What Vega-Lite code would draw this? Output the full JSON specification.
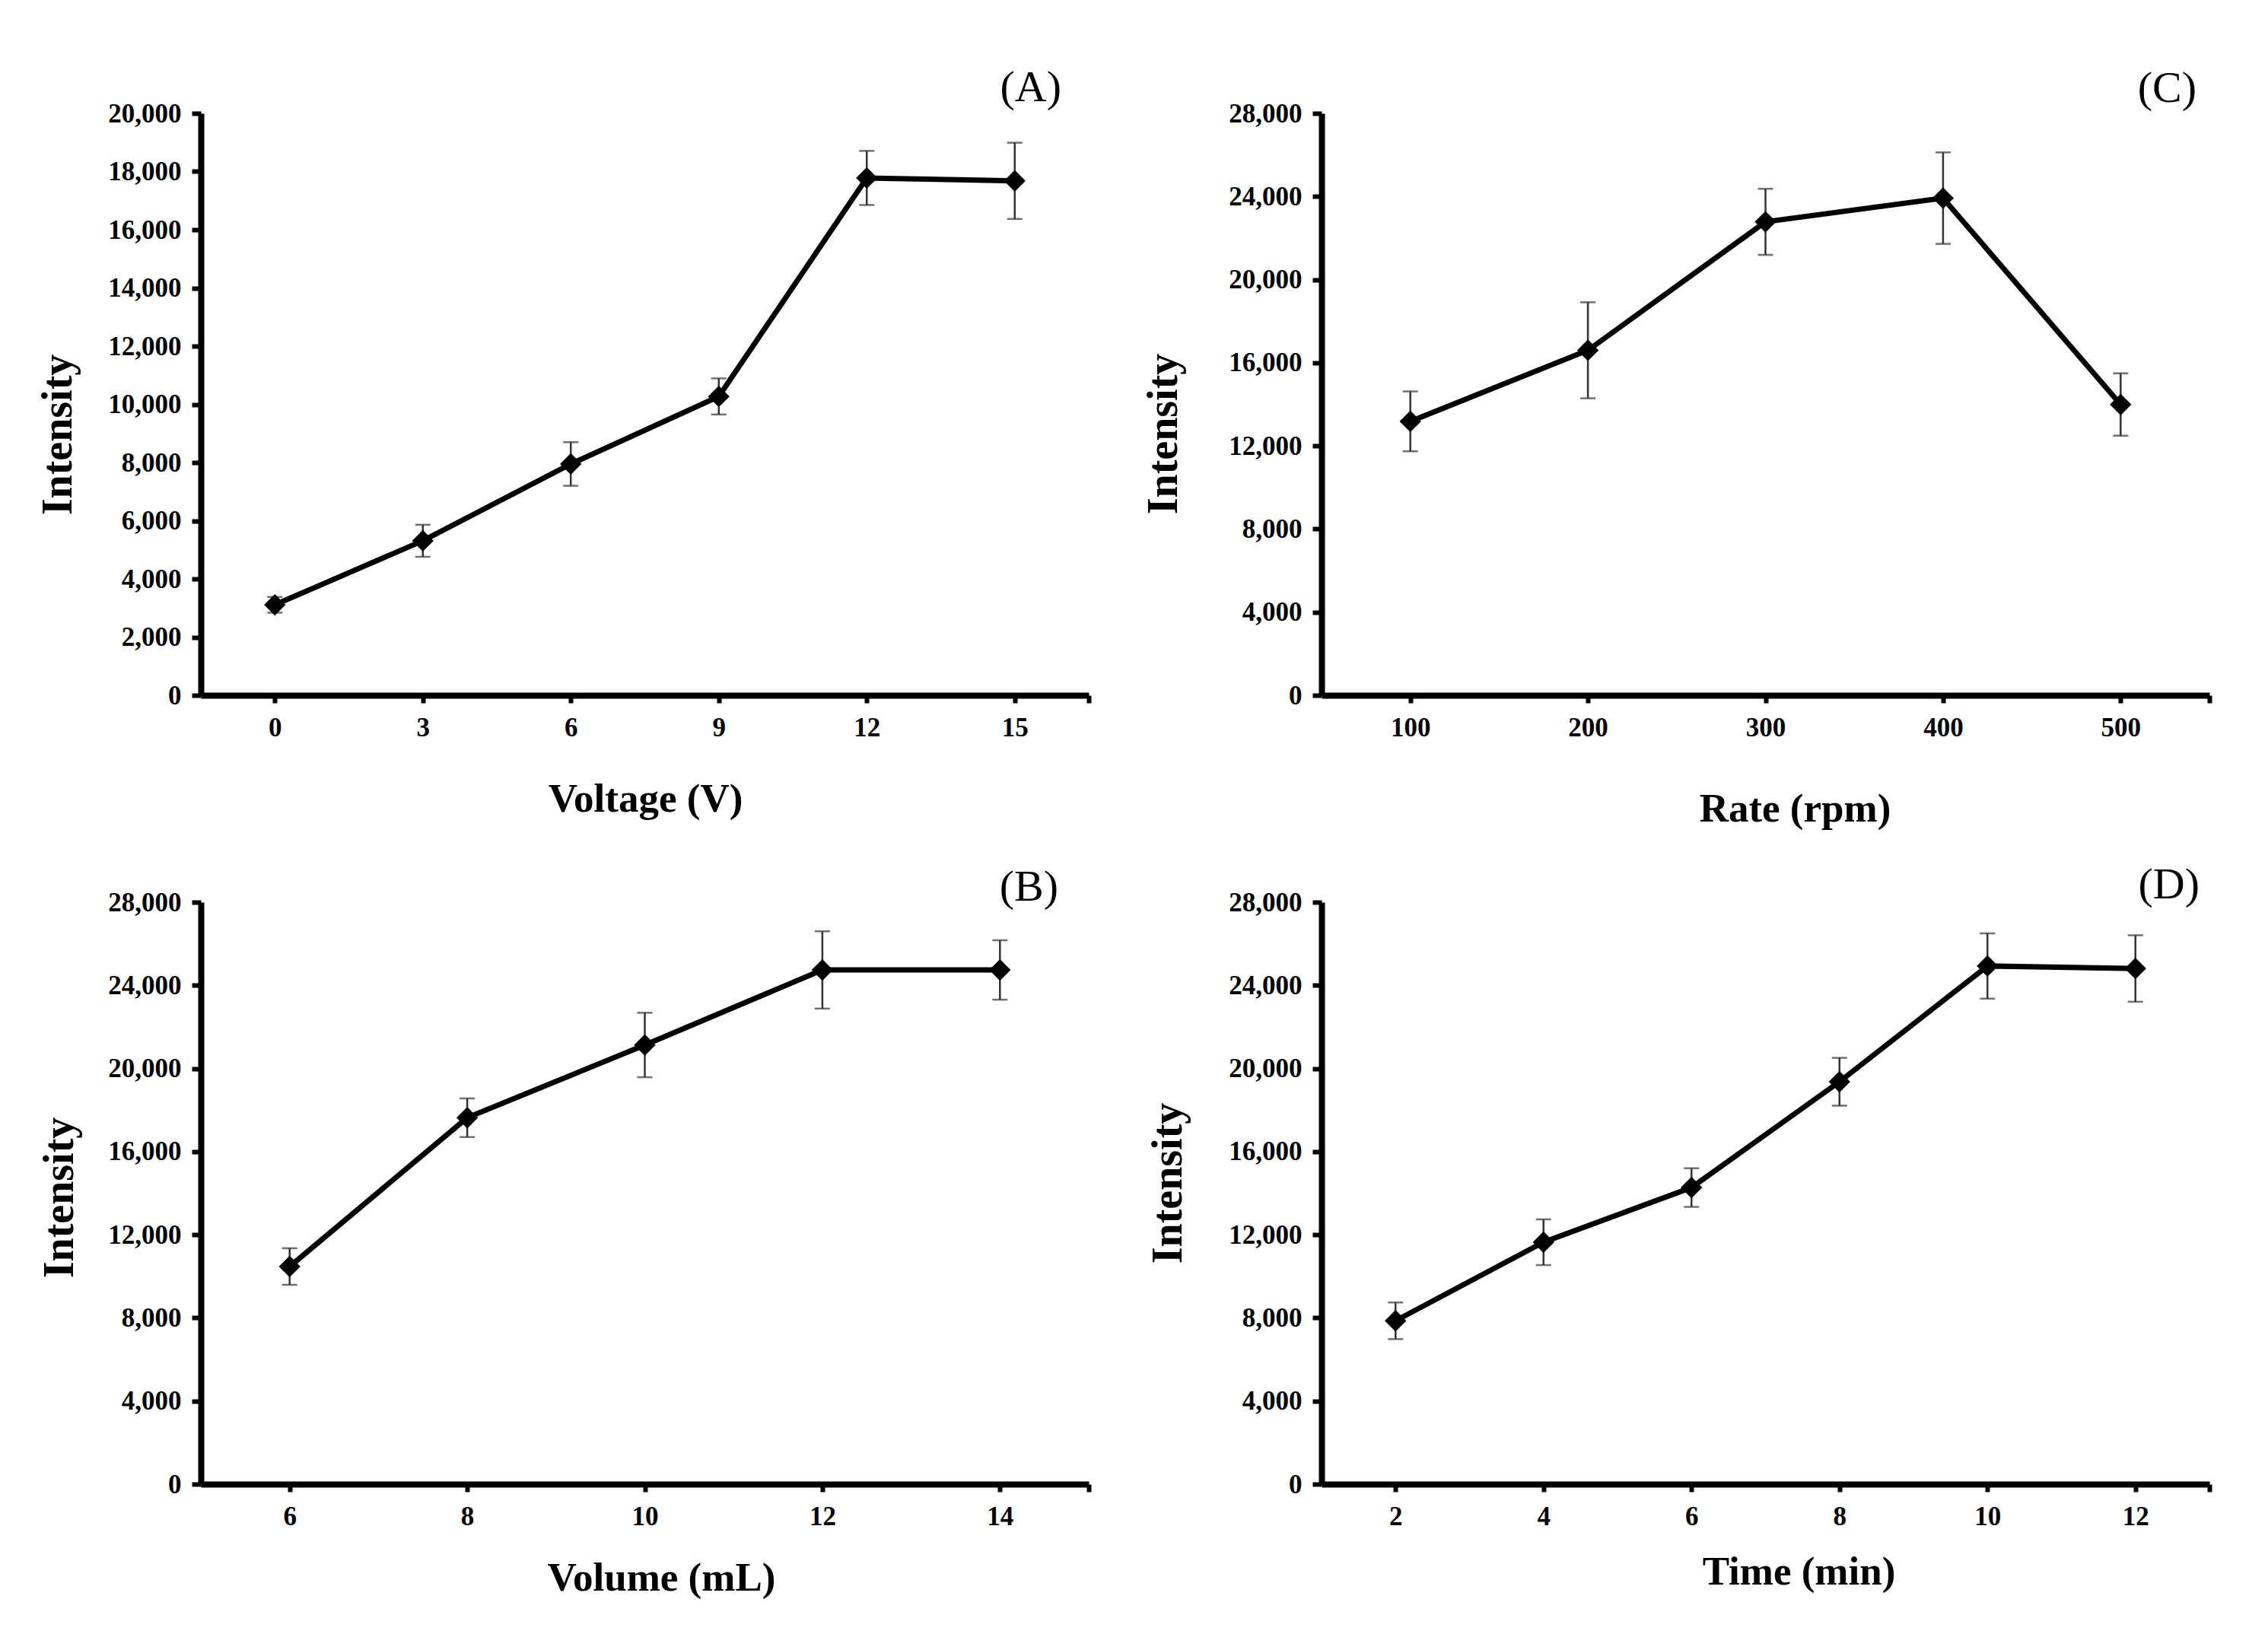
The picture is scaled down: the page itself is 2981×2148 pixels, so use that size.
{
  "$schema": "https://vega.github.io/schema/vega-lite/v6.json",
  "background": "white",
  "padding": {"left": 48, "top": 87, "right": 20, "bottom": 20},
  "columns": 2,
  "spacing": {"row": 272, "column": 306},
  "bounds": "flush",
  "config": {
    "view": {"stroke": null},
    "font": "Liberation Serif",
    "axis": {
      "grid": false,
      "domainColor": "black",
      "domainWidth": 8,
      "tickColor": "black",
      "tickWidth": 6,
      "labelFont": "Liberation Serif",
      "labelFontSize": 35,
      "labelFontWeight": "bold",
      "labelColor": "black",
      "titleFont": "Liberation Serif",
      "titleFontSize": 53,
      "titleFontWeight": "bold",
      "titleColor": "black"
    },
    "axisX": {"tickSize": 10, "labelPadding": 15, "labelFlush": false, "labelOverlap": false},
    "axisY": {"tickSize": 12, "labelPadding": 14, "titlePadding": 36, "titleFontSize": 56},
    "title": {
      "font": "Liberation Serif",
      "fontSize": 58,
      "fontWeight": "normal",
      "color": "black",
      "anchor": "end",
      "frame": "group",
      "baseline": "alphabetic"
    }
  },
  "concat": [
    {
      "width": 1167,
      "height": 765,
      "title": {"text": "(A)", "dx": -36, "offset": -13},
      "data": {"values": [
        {"x": 0, "intensity": 3110, "sd": 270},
        {"x": 3, "intensity": 5310, "sd": 550},
        {"x": 6, "intensity": 7950, "sd": 750},
        {"x": 9, "intensity": 10270, "sd": 620},
        {"x": 12, "intensity": 17780, "sd": 930},
        {"x": 15, "intensity": 17680, "sd": 1310}
      ]},
      "encoding": {
        "x": {
          "field": "x", "type": "quantitative",
          "scale": {"domain": [-1.5, 16.5], "nice": false, "zero": false},
          "axis": {"values": [0, 3, 6, 9, 12, 15, 16.5], "labelExpr": "datum.value > 15 ? '' : datum.label", "title": "Voltage (V)", "titlePadding": 50, "titleX": 584}
        },
        "y": {
          "field": "intensity", "type": "quantitative",
          "scale": {"domain": [0, 20000], "nice": false},
          "axis": {"values": [0, 2000, 4000, 6000, 8000, 10000, 12000, 14000, 16000, 18000, 20000], "format": ",d", "title": "Intensity", "titleY": 422}
        }
      },
      "layer": [
        {"mark": {"type": "errorbar", "ticks": {"size": 20, "thickness": 2.5, "color": "#333333"}, "rule": {"strokeWidth": 2.5, "color": "#333333"}}, "encoding": {"yError": {"field": "sd"}}},
        {"mark": {"type": "line", "color": "black", "strokeWidth": 7}},
        {"mark": {"type": "point", "shape": "diamond", "filled": true, "color": "black", "size": 800, "opacity": 1}}
      ]
    },
    {
      "width": 1167,
      "height": 765,
      "title": {"text": "(C)", "dx": -17, "offset": -14},
      "data": {"values": [
        {"x": 100, "intensity": 13180, "sd": 1440},
        {"x": 200, "intensity": 16600, "sd": 2310},
        {"x": 300, "intensity": 22780, "sd": 1590},
        {"x": 400, "intensity": 23920, "sd": 2200},
        {"x": 500, "intensity": 13990, "sd": 1500}
      ]},
      "encoding": {
        "x": {
          "field": "x", "type": "quantitative",
          "scale": {"domain": [50, 550], "nice": false, "zero": false},
          "axis": {"values": [100, 200, 300, 400, 500, 550], "labelExpr": "datum.value > 500 ? '' : datum.label", "title": "Rate (rpm)", "titlePadding": 63, "titleX": 622}
        },
        "y": {
          "field": "intensity", "type": "quantitative",
          "scale": {"domain": [0, 28000], "nice": false},
          "axis": {"values": [0, 4000, 8000, 12000, 16000, 20000, 24000, 28000], "format": ",d", "title": "Intensity", "titleY": 421, "titlePadding": 56}
        }
      },
      "layer": [
        {"mark": {"type": "errorbar", "ticks": {"size": 20, "thickness": 2.5, "color": "#333333"}, "rule": {"strokeWidth": 2.5, "color": "#333333"}}, "encoding": {"yError": {"field": "sd"}}},
        {"mark": {"type": "line", "color": "black", "strokeWidth": 7}},
        {"mark": {"type": "point", "shape": "diamond", "filled": true, "color": "black", "size": 800, "opacity": 1}}
      ]
    },
    {
      "width": 1167,
      "height": 765,
      "title": {"text": "(B)", "dx": -40, "offset": -27},
      "data": {"values": [
        {"x": 6, "intensity": 10470, "sd": 880},
        {"x": 8, "intensity": 17630, "sd": 930},
        {"x": 10, "intensity": 21130, "sd": 1550},
        {"x": 12, "intensity": 24740, "sd": 1860},
        {"x": 14, "intensity": 24740, "sd": 1430}
      ]},
      "encoding": {
        "x": {
          "field": "x", "type": "quantitative",
          "scale": {"domain": [5, 15], "nice": false, "zero": false},
          "axis": {"values": [6, 8, 10, 12, 14, 15], "labelExpr": "datum.value > 14 ? '' : datum.label", "title": "Volume (mL)", "titlePadding": 37, "titleX": 605}
        },
        "y": {
          "field": "intensity", "type": "quantitative",
          "scale": {"domain": [0, 28000], "nice": false},
          "axis": {"values": [0, 4000, 8000, 12000, 16000, 20000, 24000, 28000], "format": ",d", "title": "Intensity", "titleY": 388, "titlePadding": 34}
        }
      },
      "layer": [
        {"mark": {"type": "errorbar", "ticks": {"size": 20, "thickness": 2.5, "color": "#333333"}, "rule": {"strokeWidth": 2.5, "color": "#333333"}}, "encoding": {"yError": {"field": "sd"}}},
        {"mark": {"type": "line", "color": "black", "strokeWidth": 7}},
        {"mark": {"type": "point", "shape": "diamond", "filled": true, "color": "black", "size": 800, "opacity": 1}}
      ]
    },
    {
      "width": 1167,
      "height": 765,
      "title": {"text": "(D)", "dx": -13, "offset": -24},
      "data": {"values": [
        {"x": 2, "intensity": 7860, "sd": 880},
        {"x": 4, "intensity": 11640, "sd": 1100},
        {"x": 6, "intensity": 14270, "sd": 930},
        {"x": 8, "intensity": 19360, "sd": 1150},
        {"x": 10, "intensity": 24930, "sd": 1570},
        {"x": 12, "intensity": 24810, "sd": 1600}
      ]},
      "encoding": {
        "x": {
          "field": "x", "type": "quantitative",
          "scale": {"domain": [1, 13], "nice": false, "zero": false},
          "axis": {"values": [2, 4, 6, 8, 10, 12, 13], "labelExpr": "datum.value > 12 ? '' : datum.label", "title": "Time (min)", "titlePadding": 29, "titleX": 627}
        },
        "y": {
          "field": "intensity", "type": "quantitative",
          "scale": {"domain": [0, 28000], "nice": false},
          "axis": {"values": [0, 4000, 8000, 12000, 16000, 20000, 24000, 28000], "format": ",d", "title": "Intensity", "titleY": 369, "titlePadding": 50}
        }
      },
      "layer": [
        {"mark": {"type": "errorbar", "ticks": {"size": 20, "thickness": 2.5, "color": "#333333"}, "rule": {"strokeWidth": 2.5, "color": "#333333"}}, "encoding": {"yError": {"field": "sd"}}},
        {"mark": {"type": "line", "color": "black", "strokeWidth": 7}},
        {"mark": {"type": "point", "shape": "diamond", "filled": true, "color": "black", "size": 800, "opacity": 1}}
      ]
    }
  ]
}
